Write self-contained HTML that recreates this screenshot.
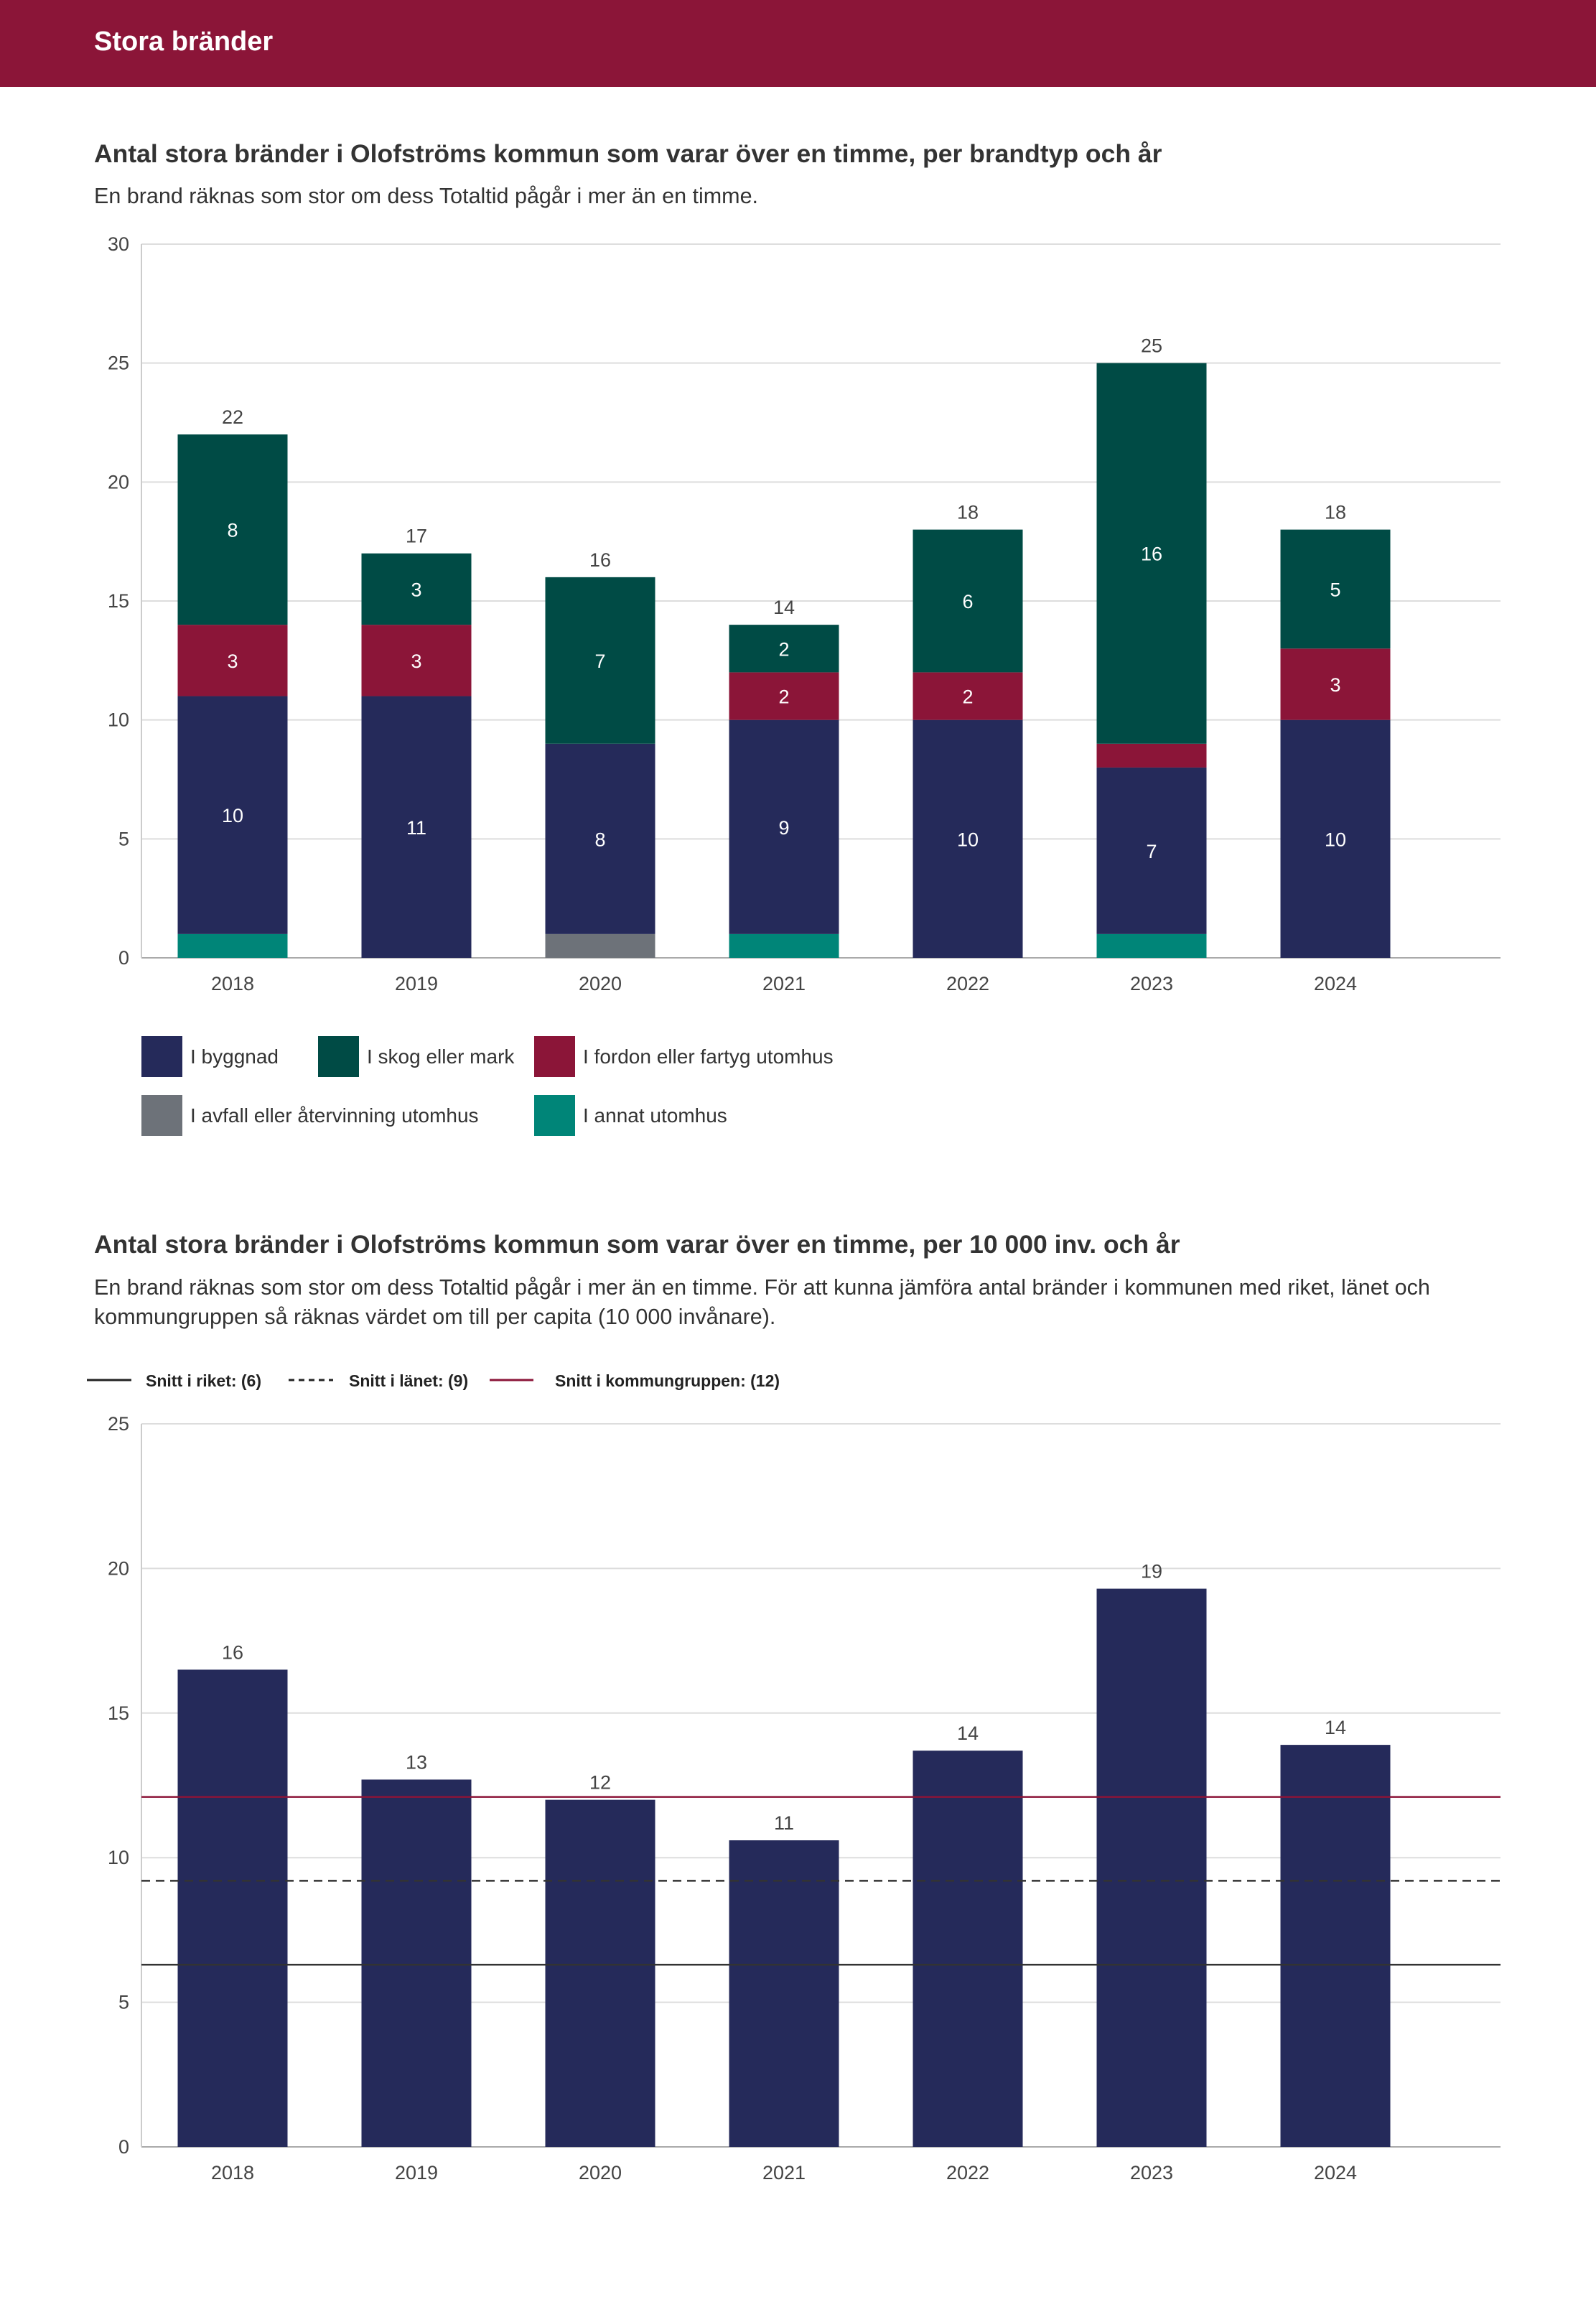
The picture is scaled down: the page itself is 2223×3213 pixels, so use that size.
<!DOCTYPE html>
<html><head><meta charset="utf-8"><style>
body{margin:0;width:2223px;height:3213px;background:#fff;font-family:"Liberation Sans",sans-serif;overflow:hidden}
svg{display:block}
</style></head><body>
<svg width="2223" height="3213" id="root">
<rect x="0" y="0" width="2223" height="121" fill="#8B1538"/>
<text x="131" y="70" font-size="38" font-weight="bold" fill="#fff">Stora bränder</text>
<text x="131" y="226" font-size="35.5" font-weight="bold" fill="#333">Antal stora bränder i Olofströms kommun som varar över en timme, per brandtyp och år</text>
<text x="131" y="283" font-size="30.5" fill="#333">En brand räknas som stor om dess Totaltid pågår i mer än en timme.</text>
<g id="c1"></g>
<g id="leg1"></g>
<text x="131" y="1745" font-size="35.5" font-weight="bold" fill="#333">Antal stora bränder i Olofströms kommun som varar över en timme, per 10 000 inv. och år</text>
<text x="131" y="1803" font-size="30.5" fill="#333">En brand räknas som stor om dess Totaltid pågår i mer än en timme. För att kunna jämföra antal bränder i kommunen med riket, länet och</text>
<text x="131" y="1844" font-size="30.5" fill="#333">kommungruppen så räknas värdet om till per capita (10 000 invånare).</text>
<g id="c2"></g>
</svg>
<script>
const years=["2018","2019","2020","2021","2022","2023","2024"];
const annat=[1,0,0,1,0,1,0];
const avfall=[0,0,1,0,0,0,0];
const byggnad=[10,11,8,9,10,7,10];
const fordon=[3,3,0,2,2,1,3];
const skog=[8,3,7,2,6,16,5];
const ticks1=[0,5,10,15,20,25,30];
const perCapita=[16.5,12.7,12.0,10.6,13.7,19.3,13.9];
const perCapitaLabels=["16","13","12","11","14","19","14"];
const ticks2=[0,5,10,15,20,25];
const refRiket=6.3, refLan=9.2, refGrupp=12.1;

const NS="http://www.w3.org/2000/svg";
function mk(p,t,a,txt){const e=document.createElementNS(NS,t);for(const k in a)e.setAttribute(k,a[k]);if(txt!==undefined)e.textContent=txt;p.appendChild(e);return e;}
const L=197,R=2090,X0=324,STEP=256,BW=153;
const xc=i=>X0+i*STEP;

// chart 1
const c1=document.getElementById('c1');
const y1=v=>1334-v*(1334-340)/30;
ticks1.forEach(t=>{
 const g=mk(c1,'line',{x1:L,x2:R,y1:y1(t),y2:y1(t),stroke:t===0?'#aaa':'#ddd','stroke-width':2});
 
 
 const l=mk(c1,'text',{x:180,y:y1(t)+9,'font-size':27,fill:'#444','text-anchor':'end'},t);
 
 
});
const ax1=mk(c1,'line',{x1:L,x2:L,y1:340,y2:1334,stroke:'#ccc','stroke-width':2});


const series=[[annat,'#008578','annat'],[avfall,'#6D7279','avfall'],[byggnad,'#252A5A','byggnad'],[fordon,'#8B1538','fordon'],[skog,'#004B45','skog']];
years.forEach((yr,i)=>{
 let base=0;
 series.forEach(([arr,col,nm])=>{
  const v=arr[i]; if(!v)return;
  const r=mk(c1,'rect',{x:xc(i)-BW/2,y:y1(base+v),width:BW,height:y1(base)-y1(base+v),fill:col});
  
  
  if(v>=2){const t=mk(c1,'text',{x:xc(i),y:(y1(base)+y1(base+v))/2+10,'font-size':27,fill:'#fff','text-anchor':'middle'},v);
   
   }
  base+=v;
 });
 const tl=mk(c1,'text',{x:xc(i),y:y1(base)-15,'font-size':27,fill:'#444','text-anchor':'middle'},base);
 
 
 const xl=mk(c1,'text',{x:xc(i),y:1379,'font-size':27,fill:'#444','text-anchor':'middle'},yr);
 
 
});
// legend 1
const leg=document.getElementById('leg1');
[[197,1443,'#252A5A','I byggnad'],[443,1443,'#004B45','I skog eller mark'],[744,1443,'#8B1538','I fordon eller fartyg utomhus'],[197,1525,'#6D7279','I avfall eller återvinning utomhus'],[744,1525,'#008578','I annat utomhus']].forEach(([x,y,c,t])=>{
 const s=mk(leg,'rect',{x:x,y:y,width:57,height:57,fill:c});
 
 
 const tx=mk(leg,'text',{x:x+68,y:y+38,'font-size':28,fill:'#333'},t);
 
 
});

// chart 2
const c2=document.getElementById('c2');
const Z2=2990,T2=1983;
const y2=v=>Z2-v*(Z2-T2)/25;
ticks2.forEach(t=>{
 const g=mk(c2,'line',{x1:L,x2:R,y1:y2(t),y2:y2(t),stroke:t===0?'#aaa':'#ddd','stroke-width':2});
 
 
 const l=mk(c2,'text',{x:180,y:y2(t)+9,'font-size':27,fill:'#444','text-anchor':'end'},t);
 
 
});
const ax2=mk(c2,'line',{x1:L,x2:L,y1:T2,y2:Z2,stroke:'#ccc','stroke-width':2});


years.forEach((yr,i)=>{
 const v=perCapita[i];
 const r=mk(c2,'rect',{x:xc(i)-BW/2,y:y2(v),width:BW,height:Z2-y2(v),fill:'#252A5A'});
 
 
 const t=mk(c2,'text',{x:xc(i),y:y2(v)-15,'font-size':27,fill:'#444','text-anchor':'middle'},perCapitaLabels[i]);
 
 
 const xl=mk(c2,'text',{x:xc(i),y:3035,'font-size':27,fill:'#444','text-anchor':'middle'},yr);
 
 
});
const r1=mk(c2,'line',{x1:L,x2:R,y1:y2(refRiket),y2:y2(refRiket),stroke:'#333','stroke-width':2.5});


const r2=mk(c2,'line',{x1:L,x2:R,y1:y2(refLan),y2:y2(refLan),stroke:'#333','stroke-width':2.5,'stroke-dasharray':'12,8'});


const r3=mk(c2,'line',{x1:L,x2:R,y1:y2(refGrupp),y2:y2(refGrupp),stroke:'#8B1538','stroke-width':2.5});


// legend 2
[[121,183,'#222','','Snitt i riket: (6)',203],[402,464,'#222','8,6','Snitt i länet: (9)',486],[682,743,'#8B1538','','Snitt i kommungruppen: (12)',773]].forEach(([a,b,c,d,t,tx])=>{
 const ln=mk(c2,'line',{x1:a,x2:b,y1:1922,y2:1922,stroke:c,'stroke-width':3,'stroke-dasharray':d||'none'});
 
 
 const te=mk(c2,'text',{x:tx,y:1931,'font-size':23,'font-weight':'bold',fill:'#222'},t);
 
 
});
</script>
</body></html>
